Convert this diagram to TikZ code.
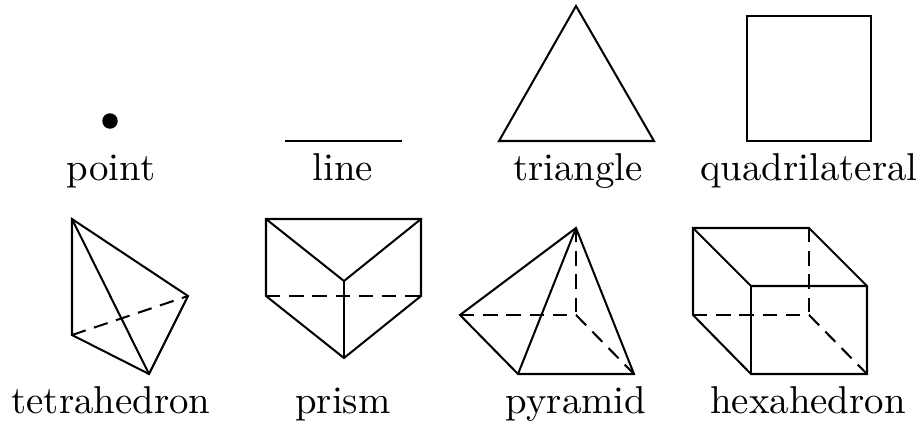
\documentclass[tikz,border=0pt]{standalone}
\usetikzlibrary{positioning}

\begin{document}
\begin{tikzpicture}[
  x=0.02cm, y=-0.02cm,
  edge/.style={draw=black, line width=1.15pt, line join=miter},
  hidden/.style={edge, dash pattern=on 8.2pt off 5pt},
  caption/.style={anchor=base, scale=2.21, inner sep=0pt},
  dot/.style={circle, fill=black, inner sep=0pt, minimum size=0.31cm}
]
  \useasboundingbox (0,0) rectangle (920,423);
  % top row
  \node[dot] (point) at (110,121) {};
  \node[caption] (pointname) at (111,180) {point};

  \coordinate (lineA) at (285,141);
  \coordinate (lineB) at (402,141);
  \draw[edge] (lineA) -- (lineB);
  \node[caption] (linename) at (343,180) {line};

  \coordinate (triA) at (576,6);
  \coordinate (triB) at (499,141);
  \coordinate (triC) at (654,141);
  \draw[edge] (triA) -- (triB) -- (triC) -- cycle;
  \node[caption] (trianglename) at (578,180) {triangle};

  \coordinate (quadA) at (747,16);
  \coordinate (quadB) at (871,16);
  \coordinate (quadC) at (871,141);
  \coordinate (quadD) at (747,141);
  \draw[edge] (quadA) -- (quadB) -- (quadC) -- (quadD) -- cycle;
  \node[caption] (quadname) at (809,180) {quadrilateral};

  % bottom row
  \coordinate (tetA) at (72,219);
  \coordinate (tetB) at (72,335);
  \coordinate (tetC) at (149,374);
  \coordinate (tetD) at (188,296);
  \draw[edge] (tetA) -- (tetB) -- (tetC) -- (tetD) -- cycle;
  \draw[edge] (tetA) -- (tetC);
  \draw[hidden] (tetB) -- (tetD);
  \node[caption] (tetname) at (111,413) {tetrahedron};

  \coordinate (priA) at (266,219);
  \coordinate (priB) at (421,219);
  \coordinate (priC) at (344,281);
  \coordinate (priD) at (266,296);
  \coordinate (priE) at (421,296);
  \coordinate (priF) at (344,358);
  \draw[edge] (priA) -- (priB) -- (priE) -- (priF) -- (priD) -- cycle;
  \draw[edge] (priA) -- (priC) -- (priB);
  \draw[edge] (priC) -- (priF);
  \draw[hidden] (priD) -- (priE);
  \node[caption] (priname) at (343,413) {prism};

  \coordinate (pyrA) at (576,228);
  \coordinate (pyrB) at (460,315);
  \coordinate (pyrC) at (576,315);
  \coordinate (pyrD) at (518,374);
  \coordinate (pyrE) at (634,374);
  \draw[edge] (pyrA) -- (pyrB) -- (pyrD) -- (pyrE) -- cycle;
  \draw[edge] (pyrA) -- (pyrD);
  \draw[hidden] (pyrB) -- (pyrC);
  \draw[hidden] (pyrA) -- (pyrC);
  \draw[hidden] (pyrC) -- (pyrE);
  \node[caption] (pyrname) at (576,413) {pyramid};

  \coordinate (hexA) at (693,228);
  \coordinate (hexB) at (809,228);
  \coordinate (hexC) at (751,286);
  \coordinate (hexD) at (867,286);
  \coordinate (hexE) at (693,315);
  \coordinate (hexF) at (809,315);
  \coordinate (hexG) at (751,374);
  \coordinate (hexH) at (867,374);
  \draw[edge] (hexA) -- (hexB) -- (hexD) -- (hexH) -- (hexG) -- (hexE) -- cycle;
  \draw[edge] (hexA) -- (hexC) -- (hexD);
  \draw[edge] (hexC) -- (hexG);
  \draw[hidden] (hexB) -- (hexF);
  \draw[hidden] (hexE) -- (hexF);
  \draw[hidden] (hexF) -- (hexH);
  \node[caption] (hexname) at (808,413) {hexahedron};
\end{tikzpicture}
\end{document}
